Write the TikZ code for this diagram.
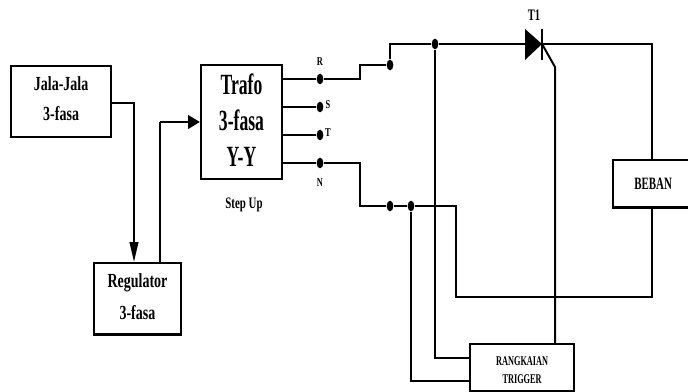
\documentclass[tikz,border=0pt]{standalone}
\usepackage{fontspec}
\setmainfont{Liberation Serif}
\usetikzlibrary{arrows.meta,shapes.geometric}
\newlength{\textlift}
\newcommand{\cond}[2][0.7]{\raisebox{\textlift}[\height][\depth]{\scalebox{#1}[1]{\bfseries #2}}}
\tikzset{
  x=0.75pt,y=-0.75pt,
  blockbox/.style={draw,line width=1.7pt,inner sep=0pt,align=center,anchor=north west},
  lift/.style={execute at begin node={\setlength{\textlift}{#1}}},
  wire/.style={line width=1.5pt,line join=miter},
  heavy/.style={line width=2.2pt,line join=miter},
  junc/.style={ellipse,fill=black,inner sep=0pt,minimum width=5pt,minimum height=8pt},
  downtip/.style={-{Triangle[length=15pt,width=6.5pt]}},
  righttip/.style={-{Triangle[length=9pt,width=10pt]}},
  lab/.style={inner sep=0pt},
}
\begin{document}
\begin{tikzpicture}
\useasboundingbox (0,0) rectangle (688,392);
% blocks
\node[blockbox,lift=2.2pt,minimum width=75pt,minimum height=53pt,font=\fontsize{15}{23}\selectfont] (jala) at (10,65)
  {\cond{Jala-Jala}\\\cond{3-fasa}};
\node[blockbox,lift=1.8pt,minimum width=65pt,minimum height=53.5pt,font=\fontsize{15}{24}\selectfont] (reg) at (93,262)
  {\cond{Regulator}\\\cond{3-fasa}};
\node[blockbox,lift=1.8pt,minimum width=60.5pt,minimum height=85.5pt,font=\fontsize{22}{27}\selectfont] (trafo) at (200,64)
  {\cond[0.6]{Trafo}\\\cond[0.6]{3-fasa}\\\cond[0.6]{Y-Y}};
\node[blockbox,minimum width=60pt,minimum height=35.5pt,font=\fontsize{13}{15}\selectfont] (beban) at (612,159)
  {\cond[0.63]{BEBAN}};
\node[blockbox,lift=-2.2pt,minimum width=78pt,minimum height=35pt,font=\fontsize{10}{13.5}\selectfont] (trig) at (469,343)
  {\cond[0.62]{RANGKAIAN}\\\cond[0.62]{TRIGGER}};
% junctions
\node[junc] (r) at (320,79) {};
\node[junc] (s) at (320,107) {};
\node[junc] (t) at (320,135) {};
\node[junc] (n) at (320,163) {};
\node[junc] (j1) at (390,65) {};
\node[junc] (j2) at (435,44) {};
\node[junc] (j3) at (390,206) {};
\node[junc] (j4) at (411,206) {};
% thyristor
\coordinate (ak) at (542,44);
\coordinate (gk) at (555,67);
\node[lab,font=\fontsize{12}{14}\selectfont] (t1) at (534,15) {\cond[0.66]{T1}};
\fill (525,29) -- (542,44) -- (525,60) -- cycle;
\draw[line width=0.9pt] (542,29) -- (542,60);
% labels
\node[lab,font=\fontsize{9}{10}\selectfont] (lr) at (320,62) {\cond{R}};
\node[lab,font=\fontsize{9}{10}\selectfont] (ls) at (328,105) {\cond{S}};
\node[lab,font=\fontsize{9}{10}\selectfont] (lt) at (328,133) {\cond{T}};
\node[lab,font=\fontsize{9}{10}\selectfont] (ln) at (320,183) {\cond{N}};
\node[lab,font=\fontsize{12}{14}\selectfont] (up) at (244,205) {\cond[0.68]{Step Up}};
% connectors
\draw[wire,downtip] (jala.east |- 0,103) -| (reg.north -| 134,0);
\draw[wire] (160,262) -- (160,122);
\draw[heavy,righttip] (160,122) -- (trafo.west |- 0,122);
\draw[wire] (trafo.east |- r) -- (r);
\draw[heavy] (trafo.east |- s) -- (s);
\draw[wire] (trafo.east |- t) -- (t);
\draw[wire] (trafo.east |- n) -- (n);
\draw[wire] (r) -- (360,79) -- (360,65) -- (j1);
\draw[heavy] (j1) -- (390,44) -- (j2);
\draw[heavy] (j2) -- (525,44);
\draw[heavy] (ak) -- (652,44) -- (652,100);
\draw[wire] (652,100) -- (beban.north -| 652,0);
\draw[wire] (ak) -- (gk) -- (trig.north -| gk);
\draw[wire] (n) -- (360,163) -- (360,206) -- (j3);
\draw[heavy] (j3) -- (j4);
\draw[wire] (j4) -- (456,206) -- (456,297) -- (652,297) -- (beban.south -| 652,0);
\draw[wire] (j2) -- (435,358) -- (trig.west |- 0,358);
\draw[wire] (j4) -- (411,381) -- (trig.west |- 0,381);
\end{tikzpicture}
\end{document}
